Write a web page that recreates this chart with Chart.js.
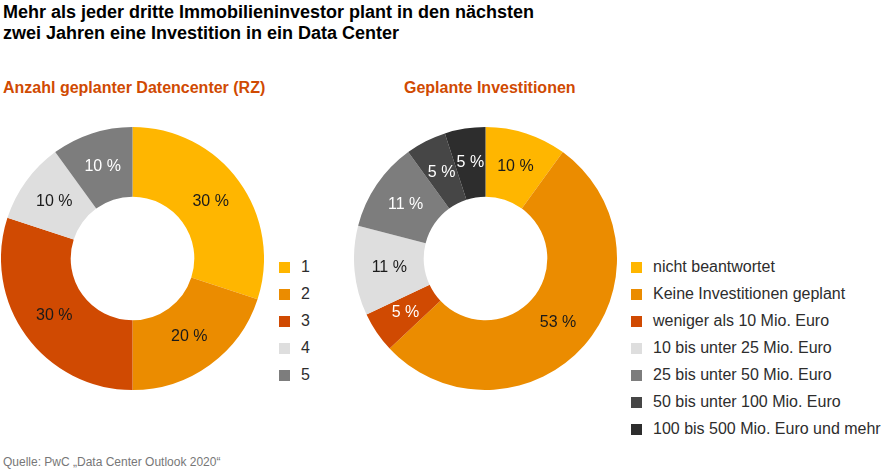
<!DOCTYPE html>
<html>
<head>
<meta charset="utf-8">
<script src="https://cdn.jsdelivr.net/npm/chart.js@4"></script>
<style>
    body { margin: 0; width: 885px; height: 472px; background: #fff; font-family: "Liberation Sans", Arial, sans-serif; position: relative; overflow: hidden; }
    .title { position: absolute; left: 3px; top: 2px; font-size: 18px; font-weight: bold; line-height: 21px; color: #000; }
    .sub { position: absolute; top: 79px; font-size: 16px; font-weight: bold; color: #d04a02; }
    .chartbox { position: absolute; top: 127px; width: 263px; height: 263px; }
    .legend { position: absolute; top: 258px; font-size: 16px; color: #2d2d2d; }
    .legend div { height: 27px; line-height: 18px; position: relative; padding-left: 22px; white-space: nowrap; }
    .legend span { position: absolute; left: 0; top: 4px; width: 11px; height: 11px; }
    .source { position: absolute; left: 3px; top: 455px; font-size: 12px; color: #777; }
</style>
</head>
<body>
<div class="title">Mehr als jeder dritte Immobilieninvestor plant in den nächsten<br>zwei Jahren eine Investition in ein Data Center</div>
<div class="sub" style="left:3px">Anzahl geplanter Datencenter (RZ)</div>
<div class="sub" style="left:404px">Geplante Investitionen</div>
<div class="chartbox" style="left:1px"><canvas id="countChart"></canvas></div>
<div class="chartbox" style="left:354px"><canvas id="investChart"></canvas></div>
<div class="legend" id="countLegend" style="left:279px"></div>
<div class="legend" id="investLegend" style="left:631px"></div>
<div class="source">Quelle: PwC „Data Center Outlook 2020“</div>

<script>
// Left donut: number of planned data centers
const countLabels = ['1', '2', '3', '4', '5'];
const countValues = [30, 20, 30, 10, 10];
const countColors = ['#ffb600', '#eb8c00', '#d04a02', '#dedede', '#7d7d7d'];
const countTextColors = ['#1a1a1a', '#1a1a1a', '#1a1a1a', '#1a1a1a', '#ffffff'];

// Right donut: planned investments
const investLabels = [
    'nicht beantwortet',
    'Keine Investitionen geplant',
    'weniger als 10 Mio. Euro',
    '10 bis unter 25 Mio. Euro',
    '25 bis unter 50 Mio. Euro',
    '50 bis unter 100 Mio. Euro',
    '100 bis 500 Mio. Euro und mehr'
];
const investValues = [10, 53, 5, 11, 11, 5, 5];
const investColors = ['#ffb600', '#eb8c00', '#d04a02', '#dedede', '#7d7d7d', '#464646', '#2d2d2d'];
const investTextColors = ['#1a1a1a', '#1a1a1a', '#ffffff', '#1a1a1a', '#ffffff', '#ffffff', '#ffffff'];

// Draws the percentage labels in the middle of each ring segment
const sliceLabels = {
    id: 'sliceLabels',
    afterDatasetsDraw(chart, args, opts) {
        const ctx = chart.ctx;
        const meta = chart.getDatasetMeta(0);
        const values = chart.data.datasets[0].data;
        ctx.save();
        ctx.font = '16px "Liberation Sans", Arial, sans-serif';
        ctx.textAlign = 'center';
        ctx.textBaseline = 'middle';
        meta.data.forEach((arc, i) => {
            const pos = arc.tooltipPosition();
            ctx.fillStyle = opts.colors[i];
            ctx.fillText(values[i] + ' %', pos.x, pos.y);
        });
        ctx.restore();
    }
};

function makeDonut(id, labels, values, colors, textColors) {
    const ctx = document.getElementById(id).getContext('2d');
    return new Chart(ctx, {
        type: 'doughnut',
        data: {
            labels: labels,
            datasets: [{
                data: values,
                backgroundColor: colors,
                borderWidth: 0
            }]
        },
        options: {
            responsive: true,
            maintainAspectRatio: false,
            animation: false,
            cutout: '47%',
            layout: { padding: 0 },
            plugins: {
                legend: { display: false },
                tooltip: { enabled: false },
                sliceLabels: { colors: textColors }
            }
        },
        plugins: [sliceLabels]
    });
}

function buildLegend(elId, labels, colors) {
    const el = document.getElementById(elId);
    labels.forEach((label, i) => {
        const row = document.createElement('div');
        const box = document.createElement('span');
        box.style.background = colors[i];
        row.appendChild(box);
        row.appendChild(document.createTextNode(label));
        el.appendChild(row);
    });
}

makeDonut('countChart', countLabels, countValues, countColors, countTextColors);
makeDonut('investChart', investLabels, investValues, investColors, investTextColors);
buildLegend('countLegend', countLabels, countColors);
buildLegend('investLegend', investLabels, investColors);
</script>
</body>
</html>
